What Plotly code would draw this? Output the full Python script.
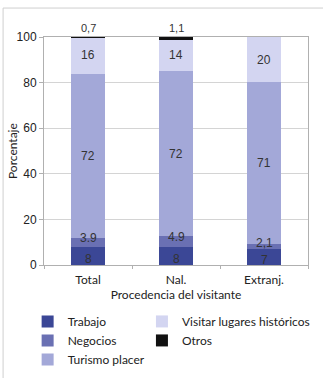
import plotly.graph_objects as go

# procedencia del visitante
categorias = ['Total', 'Nal.', 'Extranj.']

trabajo = [8, 8, 7]
negocios = [3.9, 4.9, 2.1]
turismo = [72, 72, 71]
visitar = [16, 14, 20]
otros = [0.7, 1.1, 0]

# etiquetas tal como aparecen en la figura
txt_trabajo = ['8', '8', '7']
txt_negocios = ['3.9', '4.9', '2,1']
txt_turismo = ['72', '72', '71']
txt_visitar = ['16', '14', '20']
txt_otros = ['0,7', '1,1', '']

series = [
    ('Trabajo', trabajo, txt_trabajo, '#3b4796', 'legend'),
    ('Negocios', negocios, txt_negocios, '#6a70b3', 'legend'),
    ('Turismo placer', turismo, txt_turismo, '#a3a8d8', 'legend'),
    ('Visitar lugares históricos', visitar, txt_visitar, '#d3d5f1', 'legend2'),
    ('Otros', otros, txt_otros, '#111111', 'legend2'),
]

num_family = 'Liberation Sans, Arial, sans-serif'
txt_font = dict(family='Lato, sans-serif', size=12, color='#222222')

fig = go.Figure()
base = [0, 0, 0]
annotations = []
for name, vals, txt, color, leg in series:
    fig.add_bar(x=categorias, y=vals, name=name, legend=leg,
                marker=dict(color=color, line=dict(width=0)),
                cliponaxis=False)
    for i, cat in enumerate(categorias):
        if txt[i]:
            if name == 'Otros':
                # etiqueta encima de la barra (anclada en el tope del eje)
                annotations.append(dict(x=cat, y=min(base[i] + vals[i], 100), text=txt[i],
                                        showarrow=False, yanchor='bottom', yshift=1,
                                        font=dict(family=num_family, size=11, color='#333333')))
            else:
                ys = 0
                if name == 'Negocios':
                    ys = 4
                elif name == 'Trabajo':
                    ys = -3
                annotations.append(dict(x=cat, y=base[i] + vals[i] / 2, text=txt[i], showarrow=False,
                                        yshift=ys,
                                        font=dict(family=num_family, size=12, color='#333333')))
        base[i] += vals[i]

# titulo del eje y
annotations.append(dict(xref='paper', yref='paper', x=-0.121, y=0.5, text='Porcentaje',
                        xanchor='center', yanchor='middle',
                        textangle=-90, showarrow=False, font=txt_font))

leg_common = dict(orientation='v', yref='container', y=0.188, yanchor='top',
                  itemwidth=30, tracegroupgap=0, traceorder='normal',
                  font=dict(family='Lato, sans-serif', size=12, color='#222222'),
                  bgcolor='rgba(0,0,0,0)')

fig.update_layout(
    width=323, height=378,
    barmode='stack', bargap=0.61,
    plot_bgcolor='white', paper_bgcolor='white',
    margin=dict(l=44, r=15, t=37, b=113),
    font=txt_font,
    showlegend=True,
    legend=dict(x=-0.062, **leg_common),
    legend2=dict(x=0.371, **leg_common),
    annotations=annotations,
    shapes=[
        dict(type='line', xref='paper', yref='paper', x0=-0.155, x1=1.06, y0=1.127, y1=1.127,
             line=dict(color='#cfcfcf', width=1)),
        dict(type='line', xref='paper', yref='paper', x0=-0.155, x1=-0.155, y0=1.127, y1=-0.5,
             line=dict(color='#cfcfcf', width=1)),
    ])

fig.update_yaxes(range=[0, 100], dtick=20, showgrid=True, gridcolor='#d4d4d4',
                 showline=True, linecolor='#b0b0b0', mirror=True,
                 ticks='outside', ticklen=4, tickcolor='#b0b0b0',
                 tickfont=dict(family=num_family, size=12, color='#222222'), zeroline=False,
                 automargin=False)
fig.update_xaxes(showline=True, linecolor='#b0b0b0', mirror=True,
                 ticks='outside', tickson='boundaries', ticklen=3, tickcolor='#b0b0b0',
                 tickfont=txt_font, automargin=False, ticklabelstandoff=4,
                 title=dict(text='Procedencia del visitante', font=txt_font, standoff=4))

# sin el margen por defecto del <body>
fig.write_html("out.html", config={'displayModeBar': False},
               post_script="document.body.style.margin='0';")
